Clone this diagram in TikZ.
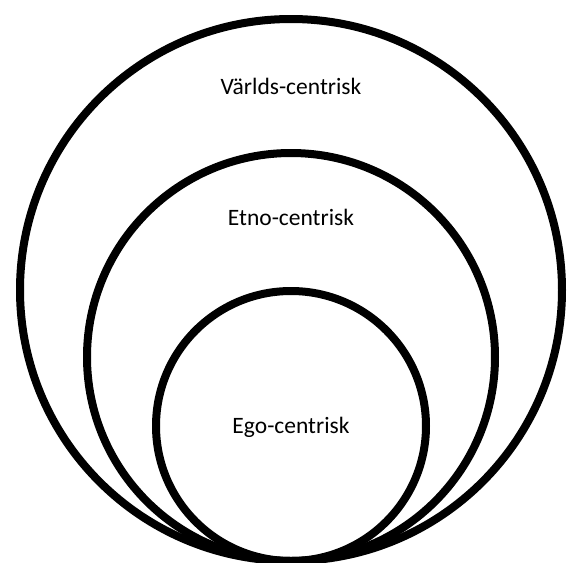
\documentclass[tikz,border=0pt]{standalone}
\usepackage{fontspec}
\setmainfont{Carlito}
\begin{document}
\begin{tikzpicture}[x=1pt,y=-1pt,
  ring/.style={draw=black,line width=8pt,circle,inner sep=0pt,fill=none},
  lbl/.style={font=\fontsize{23.5}{28}\selectfont,text=black}]
\useasboundingbox (0,0) rectangle (574,563);
\node[ring,minimum size=542pt] (outer) at (291,290) {};
\node[ring,minimum size=408pt] (middle) at (291,357) {};
\node[ring,minimum size=270pt] (inner) at (291,426) {};
\node[lbl] (t1) at (291,86) {Världs-centrisk};
\node[lbl] (t2) at (291,217) {Etno-centrisk};
\node[lbl] (t3) at (291,427) {Ego-centrisk};
\end{tikzpicture}
\end{document}
